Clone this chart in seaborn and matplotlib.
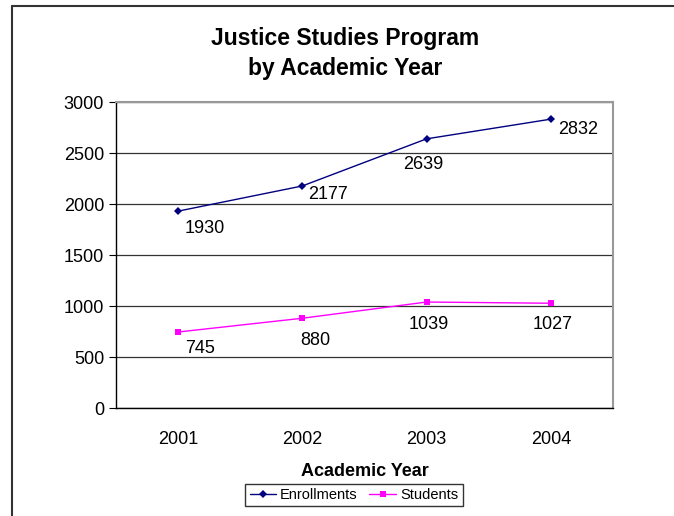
import numpy as np
import pandas as pd
import seaborn as sns
import matplotlib.pyplot as plt
from matplotlib.lines import Line2D

years = ['2001', '2002', '2003', '2004']
enrollments = [1930, 2177, 2639, 2832]
students = [745, 880, 1039, 1027]

# label offsets (pixels) like the excel data labels
enr_offsets = [(27, -17), (26, -9), (-3, -26), (27, -10)]
stu_offsets = [(22, -16), (13, -22), (2, -22), (2, -21)]

df = pd.DataFrame({
    'year': years * 2,
    'value': enrollments + students,
    'series': ['Enrollments'] * 4 + ['Students'] * 4,
})

sns.set_style('white')
plt.rcParams['font.family'] = ['Liberation Sans', 'DejaVu Sans']
plt.rcParams['text.color'] = 'black'
plt.rcParams['xtick.color'] = 'black'
plt.rcParams['ytick.color'] = 'black'
plt.rcParams['axes.labelcolor'] = 'black'

fig = plt.figure(figsize=(6.74, 5.16), dpi=100)
ax = fig.add_axes([0.172, 0.2093, 0.7375, 0.593])

sns.lineplot(data=df, x='year', y='value', hue='series', style='series',
             markers=['D', 's'], dashes=False, palette=['#000080', '#FF00FF'],
             markersize=4.5, linewidth=1, markeredgewidth=0, ax=ax, legend=False)

for i, v in enumerate(enrollments):
    ax.annotate(str(v), (i, v), xytext=enr_offsets[i], textcoords='offset pixels',
                ha='center', va='center', fontsize=13)
for i, v in enumerate(students):
    ax.annotate(str(v), (i, v), xytext=stu_offsets[i], textcoords='offset pixels',
                ha='center', va='center', fontsize=13)

ax.set_xlim(-0.5, 3.5)
ax.set_ylim(0, 3000)
ax.set_yticks(range(0, 3001, 500))
ax.yaxis.grid(True, color='#333333', linewidth=0.9)
ax.set_axisbelow(True)
ax.set_xticks(range(4))
ax.set_xticks(np.arange(-0.5, 3.6, 1), minor=True)
ax.tick_params(axis='x', which='major', length=0, labelsize=13, pad=16.5)
ax.tick_params(axis='x', which='minor', length=5, width=0.8, direction='out', color='black')
ax.tick_params(axis='y', length=5, width=0.8, direction='out', color='black', labelsize=13, left=True)
ax.set_xlabel('Academic Year', fontsize=13, fontweight='bold', labelpad=11)
ax.set_ylabel('')

for s in ['left', 'bottom']:
    ax.spines[s].set_color('black')
    ax.spines[s].set_linewidth(1)
for s in ['top', 'right']:
    ax.spines[s].set_color('#999999')
    ax.spines[s].set_linewidth(1.5)

fig.text(0.512, 0.926, 'Justice Studies Program', ha='center', va='center',
         fontsize=16.5, fontweight='bold')
fig.text(0.512, 0.868, 'by Academic Year', ha='center', va='center',
         fontsize=16.5, fontweight='bold')

handles = [
    Line2D([], [], color='#000080', marker='D', markersize=4, linewidth=1, markeredgewidth=0),
    Line2D([], [], color='#FF00FF', marker='s', markersize=4, linewidth=1, markeredgewidth=0),
]
leg = fig.legend(handles, ['Enrollments', 'Students'], loc='center',
                 bbox_to_anchor=(0.525, 0.0407), ncol=2, fontsize=10.5,
                 frameon=True, fancybox=False, handlelength=1.8,
                 columnspacing=0.8, handletextpad=0.3, borderpad=0.3,
                 borderaxespad=0)
leg.get_frame().set_edgecolor('black')
leg.get_frame().set_linewidth(1)

# outer chart border
fig.add_artist(Line2D([12 / 674, 12 / 674], [0, 1 - 6 / 516], color='#333333', linewidth=1.5))
fig.add_artist(Line2D([12 / 674, 1], [1 - 6 / 516, 1 - 6 / 516], color='#333333', linewidth=1.5))

fig.savefig('out.png', dpi=100)
